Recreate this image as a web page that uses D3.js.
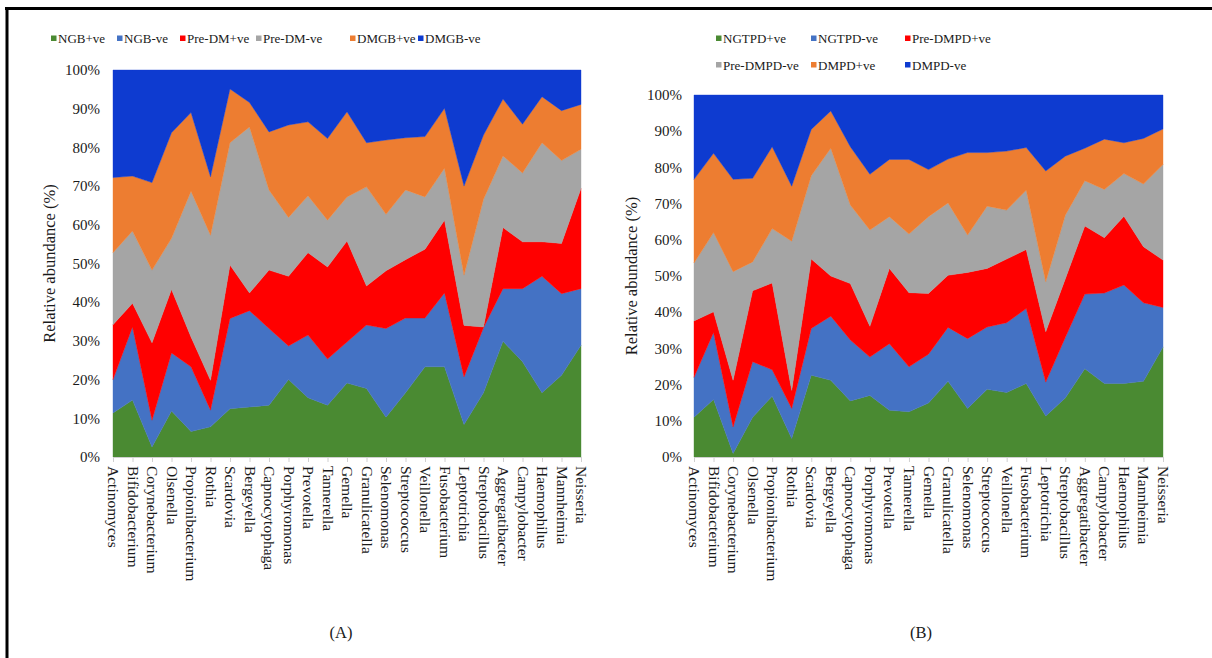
<!DOCTYPE html>
<html>
<head>
<meta charset="utf-8">
<script src="https://cdn.jsdelivr.net/npm/d3@7"></script>
<style>
  html, body { margin: 0; padding: 0; background: #fff; }
  svg { display: block; }
  text { font-family: "Liberation Serif", "Times New Roman", serif; fill: #1a1a1a; }
</style>
</head>
<body>
<svg id="chart" width="1212" height="658"></svg>
<script>
// ---------- Data ----------
const genera = ["Actinomyces","Bifidobacterium","Corynebacterium","Olsenella","Propionibacterium","Rothia","Scardovia","Bergeyella","Capnocytophaga","Porphyromonas","Prevotella","Tannerella","Gemella","Granulicatella","Selenomonas","Streptococcus","Veillonella","Fusobacterium","Leptotrichia","Streptobacillus","Aggregatibacter","Campylobacter","Haemophilus","Mannheimia","Neisseria"];

const yTicks = [0, 10, 20, 30, 40, 50, 60, 70, 80, 90, 100];

// Panel A series (relative abundance, %)
const seriesNamesA = ["NGB+ve","NGB-ve","Pre-DM+ve","Pre-DM-ve","DMGB+ve","DMGB-ve"];
const ngbPos   = [11.4,14.7,2.6,11.9,6.6,7.8,12.5,12.9,13.4,20.0,15.3,13.4,19.1,17.7,10.3,16.6,23.3,23.3,8.4,16.6,29.9,24.6,16.6,21.1,28.9];
const ngbNeg   = [8.6,18.9,6.9,15.0,16.7,4.3,23.3,24.9,19.8,8.7,16.2,11.9,10.6,16.4,22.9,19.3,12.6,19.1,12.3,16.8,13.6,18.9,30.1,21.1,14.6];
const preDmPos = [14.2,6.1,20.0,16.4,7.7,7.7,13.8,4.6,15.1,18.0,21.3,23.8,26.1,10.1,14.9,15.1,17.8,18.8,13.3,0.2,15.8,12.1,8.9,13.0,25.9];
const preDmNeg = [18.6,18.7,18.8,13.2,37.7,37.5,31.6,42.9,20.7,15.2,14.7,12.1,11.4,25.6,14.6,18.0,13.5,13.4,13.0,33.0,18.5,17.8,25.6,21.4,10.1];
const dmgbPos  = [19.4,14.2,22.6,27.3,20.3,15.1,13.9,6.3,15.0,23.9,19.1,21.1,22.0,11.4,19.2,13.5,15.6,15.5,23.0,16.6,14.7,12.6,11.9,12.9,11.6];
const dmgbNeg  = [27.8,27.4,29.1,16.2,11.0,27.6,4.9,8.4,16.0,14.2,13.4,17.7,10.8,18.8,18.1,17.5,17.2,9.9,30.0,16.8,7.5,14.0,6.9,10.5,8.9];

// Panel B series (relative abundance, %)
const seriesNamesB = ["NGTPD+ve","NGTPD-ve","Pre-DMPD+ve","Pre-DMPD-ve","DMPD+ve","DMPD-ve"];
const ngtpdPos  = [11.0,15.9,1.0,11.0,16.8,5.1,22.6,21.2,15.5,17.0,12.9,12.5,14.9,20.9,13.4,18.7,17.8,20.3,11.3,16.3,24.4,20.3,20.3,20.9,30.4];
const ngtpdNeg  = [11.0,18.5,7.3,15.3,7.3,8.3,12.9,17.7,16.8,10.6,18.4,12.4,13.5,14.9,19.3,17.2,19.3,20.7,9.4,16.7,20.6,25.0,27.2,21.7,10.9];
const preDmpdPos= [15.6,5.7,12.9,19.6,24.0,5.0,19.2,11.1,15.6,8.5,20.8,20.5,16.8,14.4,18.3,16.2,17.6,16.3,13.9,16.2,18.8,15.3,19.0,15.5,13.1];
const preDmpdNeg= [16.0,21.9,30.0,8.0,15.0,41.2,23.0,35.3,21.7,26.6,14.3,16.2,21.2,20.0,10.3,17.2,13.5,16.4,13.8,17.6,12.5,13.3,11.8,17.3,26.4];
const dmpdPos   = [23.1,21.9,25.5,23.1,22.6,15.2,12.8,10.3,16.1,15.4,15.8,20.6,13.0,12.1,22.8,14.8,16.3,11.8,30.6,16.3,9.0,13.9,8.5,12.6,9.8];
const dmpdNeg   = [23.3,16.1,23.3,23.0,14.3,25.2,9.5,4.4,14.3,21.9,17.8,17.8,20.6,17.7,15.9,15.9,15.5,14.5,21.0,16.9,14.7,12.2,13.2,12.0,9.4];

const colors = ["#4a8a32","#4472c4","#ff0000","#a5a5a5","#ed7d31","#0e3bd0"];

// ---------- Drawing ----------
const svg = d3.select("#chart");

// outer frame (top and left thick lines)
svg.append("line").attr("x1", 5).attr("x2", 1212).attr("y1", 8.5).attr("y2", 8.5)
  .attr("stroke", "#000").attr("stroke-width", 3);
svg.append("line").attr("x1", 7).attr("x2", 7).attr("y1", 7).attr("y2", 658)
  .attr("stroke", "#000").attr("stroke-width", 3);

function buildRows(names, arrays) {
  return genera.map((g, i) => {
    const row = { genus: g };
    names.forEach((n, k) => row[n] = arrays[k][i]);
    return row;
  });
}

function drawPanel(cfg) {
  const { names, arrays, x0, x1, yTop, yBot, tickRight, titleX, panelLabel, labelX } = cfg;
  const rows = buildRows(names, arrays);
  const stack = d3.stack().keys(names);
  const layers = stack(rows);

  const x = d3.scalePoint().domain(genera).range([x0, x1]);
  const y = d3.scaleLinear().domain([0, 100]).range([yBot, yTop]);

  const g = svg.append("g");

  const area = d3.area()
    .x(d => x(d.data.genus))
    .y0(d => y(d[0]))
    .y1(d => y(d[1]))
    .curve(d3.curveLinear);

  g.selectAll("path.layer").data(layers).join("path")
    .attr("class", "layer")
    .attr("d", area)
    .attr("fill", (d, i) => colors[i])
    .attr("stroke", (d, i) => colors[i])
    .attr("stroke-width", 0.4);

  // y tick labels
  g.selectAll("text.ytick").data(yTicks).join("text")
    .attr("class", "ytick")
    .attr("x", tickRight)
    .attr("y", d => y(d))
    .attr("dy", "0.35em")
    .attr("text-anchor", "end")
    .style("font-size", "15px")
    .text(d => d + "%");

  // x axis
  const xAxis = d3.axisBottom(x).tickSize(5).tickFormat("");
  const ax = g.append("g").attr("transform", `translate(0,${yBot})`).call(xAxis);
  ax.select(".domain").attr("stroke", "#d0d0d0");
  ax.selectAll(".tick line").attr("stroke", "#d0d0d0");

  g.selectAll("text.xlab").data(genera).join("text")
    .attr("class", "xlab")
    .attr("transform", d => `translate(${x(d) - 5},${yBot + 9}) rotate(90)`)
    .attr("text-anchor", "start")
    .style("font-size", "15.5px")
    .text(d => d);

  // y axis title
  const midY = (yTop + yBot) / 2;
  g.append("text")
    .attr("transform", `translate(${titleX},${midY}) rotate(-90)`)
    .attr("text-anchor", "middle")
    .style("font-size", "16.5px")
    .text("Relative abundance (%)");

  // panel label
  g.append("text")
    .attr("x", labelX).attr("y", 638)
    .attr("text-anchor", "middle")
    .style("font-size", "16.5px")
    .text(panelLabel);
}

drawPanel({
  names: seriesNamesA,
  arrays: [ngbPos, ngbNeg, preDmPos, preDmNeg, dmgbPos, dmgbNeg],
  x0: 113, x1: 581, yTop: 70, yBot: 457,
  tickRight: 100, titleX: 55, panelLabel: "(A)", labelX: 341
});

drawPanel({
  names: seriesNamesB,
  arrays: [ngtpdPos, ngtpdNeg, preDmpdPos, preDmpdNeg, dmpdPos, dmpdNeg],
  x0: 694, x1: 1163, yTop: 95, yBot: 457,
  tickRight: 682, titleX: 637, panelLabel: "(B)", labelX: 921
});

// legends
function legend(items) {
  const lg = svg.append("g");
  items.forEach(it => {
    lg.append("rect").attr("x", it.x).attr("y", it.y - 3).attr("width", 5.5).attr("height", 5.5)
      .attr("fill", it.color);
    lg.append("text").attr("x", it.x + 7).attr("y", it.y).attr("dy", "0.35em")
      .style("font-size", "13px").text(it.name);
  });
}
const legAX = [51, 117, 180, 256, 350, 418];
legend(seriesNamesA.map((n, i) => ({ name: n, color: colors[i], x: legAX[i], y: 38.5 })));

const legBX = [716, 811, 905];
legend(seriesNamesB.map((n, i) => ({ name: n, color: colors[i], x: legBX[i % 3], y: i < 3 ? 38.5 : 65 })));
</script>
</body>
</html>
